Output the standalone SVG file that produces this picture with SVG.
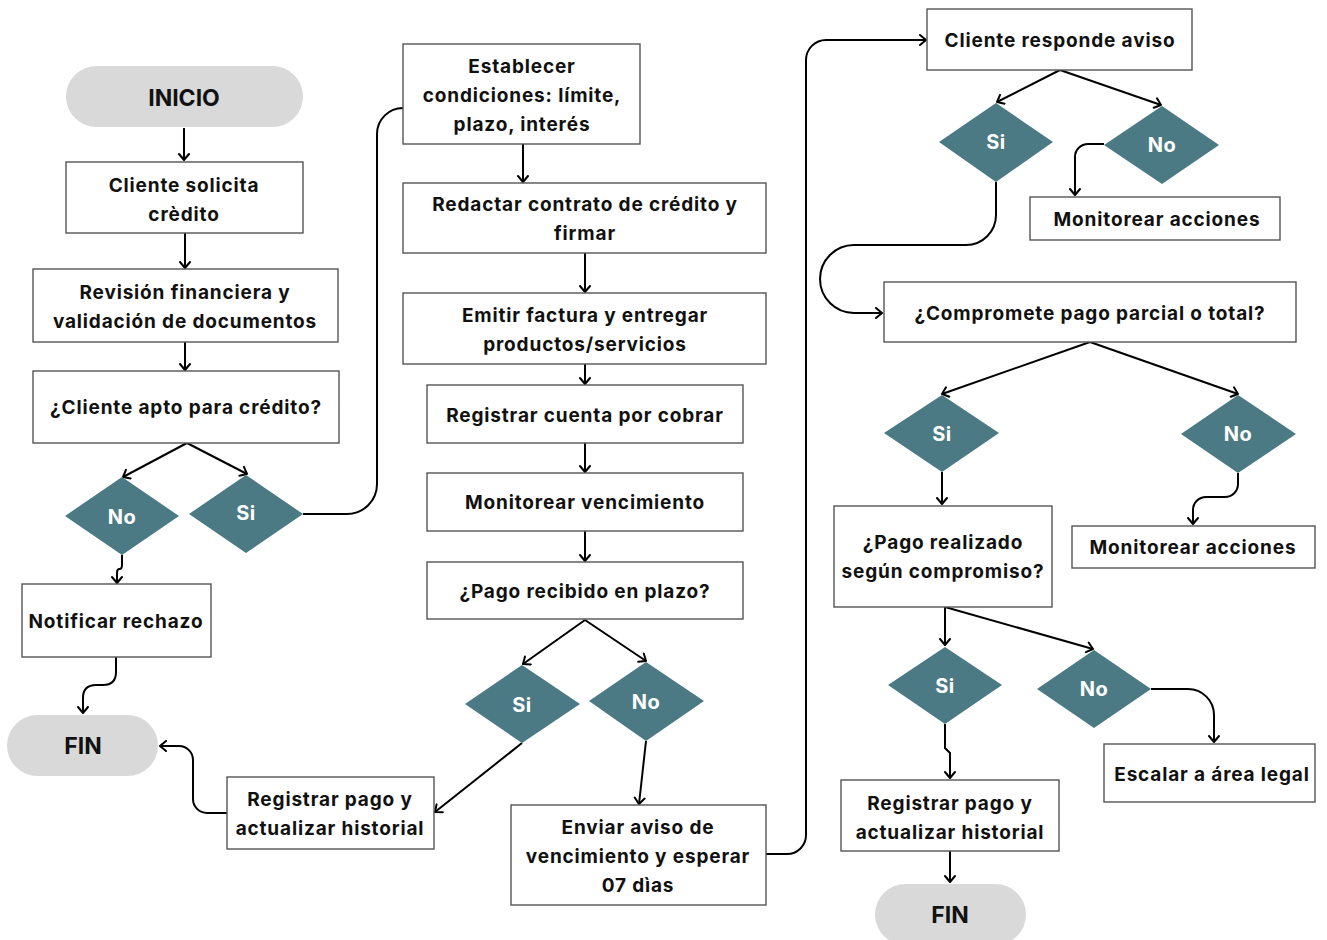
<svg xmlns="http://www.w3.org/2000/svg" width="1327" height="940" viewBox="0 0 1327 940">
<defs>
<marker id="arr" markerUnits="userSpaceOnUse" markerWidth="14" markerHeight="14" refX="9" refY="6" orient="auto">
<path d="M3,1 L9,6 L3,11" fill="none" stroke="#000" stroke-width="2" stroke-linecap="round" stroke-linejoin="round"/>
</marker>
<style>
.box{fill:#fff;stroke:#555;stroke-width:1.4}
.pill{fill:#d9d9d9;stroke:none}
.dia{fill:#4b7a85;stroke:none}
.t{font-family:Inter,"Liberation Sans",sans-serif;font-weight:700;font-size:19px;letter-spacing:0.85px;fill:#111;text-anchor:middle;dominant-baseline:central}
.tp{font-family:Inter,"Liberation Sans",sans-serif;font-weight:700;font-size:23px;fill:#111;text-anchor:middle;dominant-baseline:central}
.td{font-family:Inter,"Liberation Sans",sans-serif;font-weight:700;font-size:20px;letter-spacing:0.4px;fill:#fff;text-anchor:middle;dominant-baseline:central}
.c{fill:none;stroke:#000;stroke-width:2}
.ca{fill:none;stroke:#000;stroke-width:2;marker-end:url(#arr)}
</style>
</defs>
<rect width="1327" height="940" fill="#fff"/>

<g id="connectors">
<path class="ca" d="M184,128 V160"/>
<path class="ca" d="M185,233 V268"/>
<path class="ca" d="M185,342 V370"/>
<path class="ca" d="M187,443 L123,477"/>
<path class="ca" d="M187,443 L247,474"/>
<path class="ca" d="M122,555 V565 Q122,569 119.5,569 Q117,569 117,573 V583"/>
<path class="ca" d="M116,657 V672 Q116,685 103,685 H96 Q83,685 83,698 V713"/>
<path class="c" d="M303,514 H347 A30,30 0 0 0 377,484 V134 A26,26 0 0 1 403,108"/>
<path class="ca" d="M523,144 V182"/>
<path class="ca" d="M585,253 V292"/>
<path class="ca" d="M585,364 V384"/>
<path class="ca" d="M585,443 V472"/>
<path class="ca" d="M585,531 V561"/>
<path class="ca" d="M585,620 L523,664"/>
<path class="ca" d="M585,620 L646,661"/>
<path class="ca" d="M522,743 L435,812"/>
<path class="ca" d="M646,741 L639,804"/>
<path class="ca" d="M227,813 H207 A14,14 0 0 1 193,799 V760 A14,14 0 0 0 179,746 H160"/>
<path class="ca" d="M766,854 H787 A19,19 0 0 0 806,835 V60 A20,20 0 0 1 826,40 H926"/>
<path class="ca" d="M1060,70 L997,102"/>
<path class="ca" d="M1060,70 L1161,105"/>
<path class="ca" d="M1104,144 H1088 A13,13 0 0 0 1075,157 V195"/>
<path class="ca" d="M996,182 V215 A30,30 0 0 1 966,245 H854 A34,34 0 0 0 854,313 H882"/>
<path class="ca" d="M1090,342 L942,394"/>
<path class="ca" d="M1090,342 L1238,394"/>
<path class="ca" d="M942,472 V504"/>
<path class="ca" d="M1238,473 V484 A13,13 0 0 1 1225,497 H1206 A13,13 0 0 0 1193,510 V524"/>
<path class="ca" d="M945,607 V645"/>
<path class="ca" d="M945,607 L1093,649"/>
<path class="ca" d="M945,724 V748 L950,753 V778"/>
<path class="ca" d="M1151,689 H1188 A26,26 0 0 1 1214,715 V742"/>
<path class="ca" d="M950,851 V882"/>
</g>

<g id="inicio"><rect class="pill" x="66" y="66" width="237" height="61" rx="30.5"/><text class="tp" x="184" y="98">INICIO</text></g>
<g id="solicita"><rect class="box" x="66" y="162" width="237" height="71"/><text class="t" x="184" y="185">Cliente solicita</text><text class="t" x="184" y="214">crèdito</text></g>
<g id="revision"><rect class="box" x="33" y="269" width="305" height="73"/><text class="t" x="185" y="292">Revisión financiera y</text><text class="t" x="185" y="321">validación de documentos</text></g>
<g id="apto"><rect class="box" x="33" y="371" width="306" height="72"/><text class="t" x="186" y="407">¿Cliente apto para crédito?</text></g>
<g id="d1no"><polygon class="dia" points="65,516 122,477 179,516 122,555"/><text class="td" x="122" y="517">No</text></g>
<g id="d1si"><polygon class="dia" points="189,514 246,475 303,514 246,553"/><text class="td" x="246" y="513">Si</text></g>
<g id="rechazo"><rect class="box" x="22" y="584" width="189" height="73"/><text class="t" x="116" y="621">Notificar rechazo</text></g>
<g id="fin1"><rect class="pill" x="7" y="715" width="151" height="61" rx="30.5"/><text class="tp" x="83" y="746">FIN</text></g>
<g id="registrar1"><rect class="box" x="227" y="777" width="207" height="72"/><text class="t" x="330" y="799">Registrar pago y</text><text class="t" x="330" y="828">actualizar historial</text></g>

<g id="establecer"><rect class="box" x="403" y="44" width="237" height="100"/><text class="t" x="522" y="66">Establecer</text><text class="t" x="522" y="95">condiciones: límite,</text><text class="t" x="522" y="124">plazo, interés</text></g>
<g id="redactar"><rect class="box" x="403" y="183" width="363" height="70"/><text class="t" x="585" y="204">Redactar contrato de crédito y</text><text class="t" x="585" y="233">firmar</text></g>
<g id="emitir"><rect class="box" x="403" y="293" width="363" height="71"/><text class="t" x="585" y="315">Emitir factura y entregar</text><text class="t" x="585" y="344">productos/servicios</text></g>
<g id="cuenta"><rect class="box" x="427" y="385" width="316" height="58"/><text class="t" x="585" y="415">Registrar cuenta por cobrar</text></g>
<g id="vencimiento"><rect class="box" x="427" y="473" width="316" height="58"/><text class="t" x="585" y="502">Monitorear vencimiento</text></g>
<g id="recibido"><rect class="box" x="427" y="562" width="316" height="57"/><text class="t" x="585" y="591">¿Pago recibido en plazo?</text></g>
<g id="d2si"><polygon class="dia" points="465,704 522,665 580,704 522,743"/><text class="td" x="522" y="705">Si</text></g>
<g id="d2no"><polygon class="dia" points="589,701 646,662 704,701 646,741"/><text class="td" x="646" y="702">No</text></g>
<g id="aviso"><rect class="box" x="511" y="805" width="255" height="100"/><text class="t" x="638" y="827">Enviar aviso de</text><text class="t" x="638" y="856">vencimiento y esperar</text><text class="t" x="638" y="885">07 dìas</text></g>

<g id="responde"><rect class="box" x="927" y="9" width="265" height="61"/><text class="t" x="1060" y="40">Cliente responde aviso</text></g>
<g id="d3si"><polygon class="dia" points="939,142 996,103 1053,142 996,182"/><text class="td" x="996" y="142">Si</text></g>
<g id="d3no"><polygon class="dia" points="1104,145 1162,106 1219,145 1162,184"/><text class="td" x="1162" y="145">No</text></g>
<g id="monitorear1"><rect class="box" x="1030" y="197" width="250" height="43"/><text class="t" x="1157" y="219">Monitorear acciones</text></g>
<g id="compromete"><rect class="box" x="884" y="282" width="412" height="60"/><text class="t" x="1090" y="313">¿Compromete pago parcial o total?</text></g>
<g id="d4si"><polygon class="dia" points="884,433 942,395 999,433 942,472"/><text class="td" x="942" y="434">Si</text></g>
<g id="d4no"><polygon class="dia" points="1181,434 1238,395 1296,434 1238,473"/><text class="td" x="1238" y="434">No</text></g>
<g id="realizado"><rect class="box" x="834" y="506" width="218" height="101"/><text class="t" x="943" y="542">¿Pago realizado</text><text class="t" x="943" y="571">según compromiso?</text></g>
<g id="monitorear2"><rect class="box" x="1072" y="526" width="243" height="42"/><text class="t" x="1193" y="547">Monitorear acciones</text></g>
<g id="d5si"><polygon class="dia" points="888,685 945,647 1002,685 945,724"/><text class="td" x="945" y="686">Si</text></g>
<g id="d5no"><polygon class="dia" points="1037,689 1094,650 1151,689 1094,728"/><text class="td" x="1094" y="689">No</text></g>
<g id="legal"><rect class="box" x="1104" y="744" width="211" height="58"/><text class="t" x="1212" y="774">Escalar a área legal</text></g>
<g id="registrar2"><rect class="box" x="841" y="780" width="218" height="71"/><text class="t" x="950" y="803">Registrar pago y</text><text class="t" x="950" y="832">actualizar historial</text></g>
<g id="fin2"><rect class="pill" x="875" y="884" width="151" height="61" rx="30.5"/><text class="tp" x="950" y="915">FIN</text></g>
</svg>
